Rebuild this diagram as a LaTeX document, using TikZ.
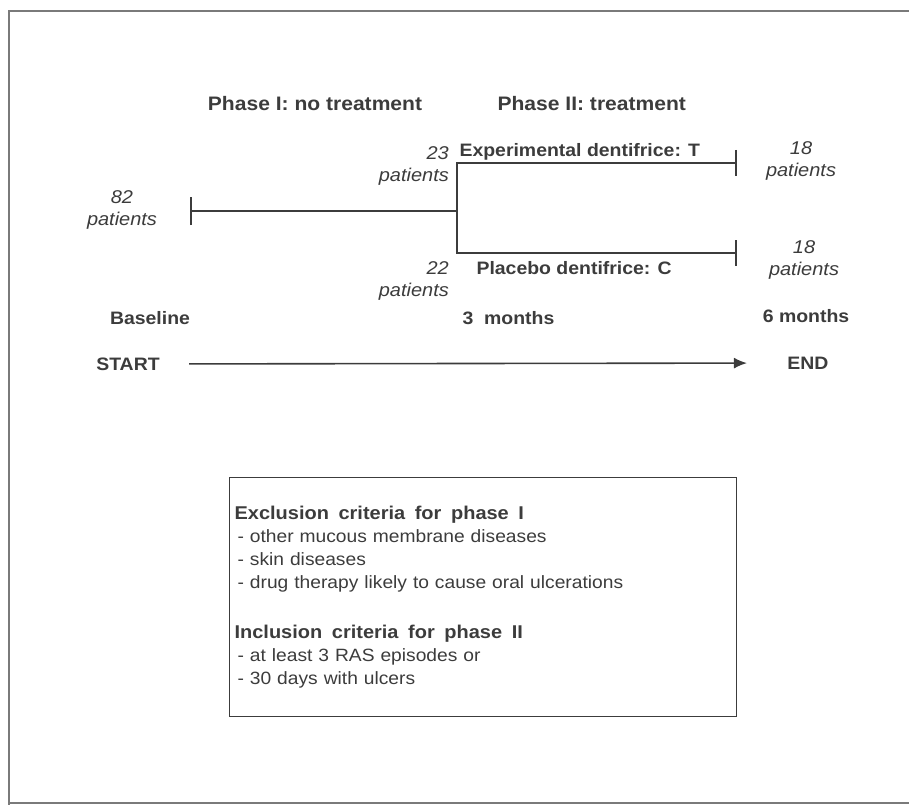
\documentclass[tikz,border=0pt]{standalone}
\usepackage{fontspec}
\setmainfont{Liberation Sans}[FakeStretch=1.08]
\usepackage{tikz}
\usetikzlibrary{arrows.meta}

\definecolor{ink}{HTML}{3C3C3C}
\definecolor{framegray}{HTML}{7A7A7A}

\tikzset{
  phase/.style={text=ink,font=\fontsize{19.5}{22}\selectfont\bfseries},
  lbl/.style={text=ink,font=\fontsize{18}{21}\selectfont\bfseries},
  pat/.style={text=ink,inner sep=0pt,font=\fontsize{18.5}{22}\selectfont\itshape},
  tline/.style={draw=ink,line width=1.6pt},
  tick/.style={tline,-{Bar[width=26pt]}},
}
\newcommand{\crithead}[1]{{\fontsize{18.5}{23}\selectfont\bfseries\spaceskip=0.52em #1}}

\begin{document}
\begin{tikzpicture}[x=1pt,y=-1pt]
\useasboundingbox (0,0) rectangle (909,805);
% outer frame (right side cut off)
\draw[framegray,line width=1.4pt] (909,11) -- (9,11) -- (9,805);
\draw[framegray,line width=1.4pt] (9,803) -- (909,803);

\node [phase] (ph1) at(315,104){Phase I: no treatment};
\node [phase,anchor=west] (ph2) at(494,104){Phase II: treatment};

\node [pat,align=center] (p82) at(122,210){82\\patients};
\node [pat,align=right,anchor=east] (p23) at(449,166){23\\patients};
\node [pat,align=right,anchor=east] (p22) at(449,281){22\\patients};
\node [pat,align=center] (p18t) at(801,161){18\\patients};
\node [pat,align=center] (p18c) at(804,260){18\\patients};

\node [lbl,anchor=west] (expt) at(456,152){Experimental dentifrice: T};
\node [lbl,anchor=west] (plac) at(473,268){Placebo dentifrice: C};

\node [lbl] (base) at(150,318){Baseline};
\node [lbl,anchor=west] (m3) at(459,318){3\ \ months};
\node [lbl] (m6) at(806,316){6 months};

\node [lbl] (start) at(128,364){START};
\node [lbl] (end) at(808,363){END};

\coordinate (t0) at(190,211);
\coordinate (split) at(457,211);
\coordinate (endT) at(737,163);
\coordinate (endC) at(737,253);

\draw[tline,{Bar[width=28pt]}-] (t0) -- (split);
\draw[tick] (split) |- (endT);
\draw[tick] (split) |- (endC);

\draw[tline,-{Latex[length=13pt,width=11pt]},shorten <=26pt,shorten >=37pt] (start) -- (end);

\node [draw=ink,line width=1.2pt,anchor=north west,minimum width=507pt,minimum height=239pt,
       text width=497pt,inner xsep=5pt,align=left,text=ink,font=\fontsize{17.8}{23}\selectfont] (crit) at(229,477){%
\crithead{Exclusion criteria for phase I}\\
\hspace{3pt}- other mucous membrane diseases\\
\hspace{3pt}- skin diseases\\
\hspace{3pt}- drug therapy likely to cause oral ulcerations\\[27pt]
\crithead{Inclusion criteria for phase II}\\
\hspace{3pt}- at least 3 RAS episodes or\\
\hspace{3pt}- 30 days with ulcers};
\end{tikzpicture}
\end{document}
